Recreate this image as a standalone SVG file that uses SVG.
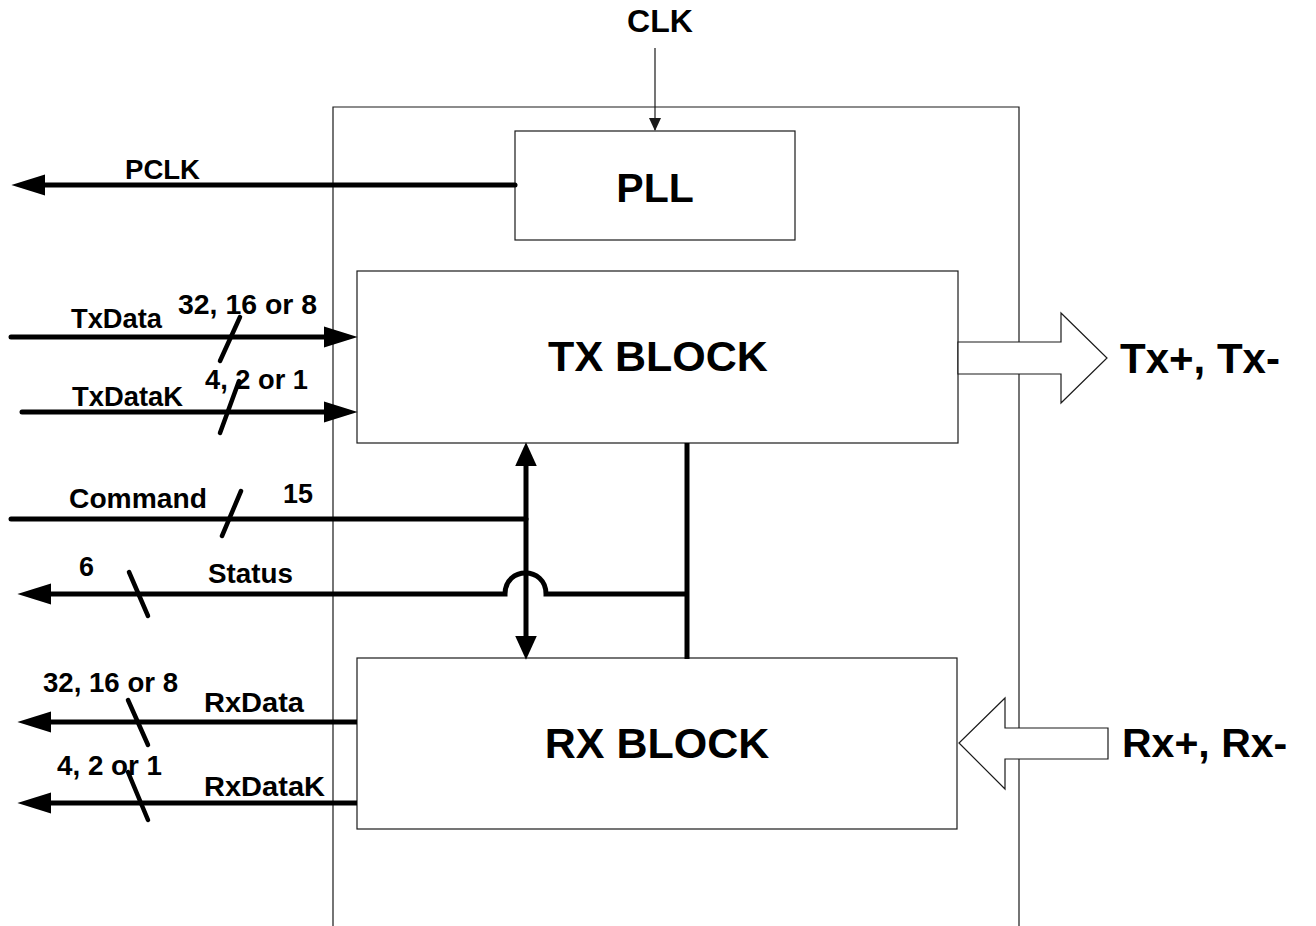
<svg xmlns="http://www.w3.org/2000/svg" width="1316" height="926" viewBox="0 0 1316 926">
<style>
  .thin { fill: none; stroke: #1a1a1a; stroke-width: 1.2; }
  .box { fill: #ffffff; stroke: #1a1a1a; stroke-width: 1.2; }
  .bus { fill: none; stroke: #000; stroke-width: 5; }
  .slash { fill: none; stroke: #000; stroke-width: 4.5; stroke-linecap: round; }
  .hollow { fill: #ffffff; stroke: #1a1a1a; stroke-width: 1.2; }
  text { font-family: "Liberation Sans", Arial, sans-serif; font-weight: bold; fill: #000; }
  .lbl { font-size: 27px; }
  .big { font-size: 43px; }
</style>
<defs>
  <marker id="ah" markerUnits="userSpaceOnUse" markerWidth="34" markerHeight="22" viewBox="0 0 32 20" refX="22" refY="10" orient="auto">
    <path d="M0,0 L32,10 L0,20 z" fill="#000"/>
  </marker>
  <marker id="ahs" markerUnits="userSpaceOnUse" markerWidth="24" markerHeight="22" viewBox="0 0 22 20" refX="14" refY="10" orient="auto-start-reverse">
    <path d="M0,0 L22,10 L0,20 z" fill="#000"/>
  </marker>
  <marker id="aht" markerUnits="userSpaceOnUse" markerWidth="14" markerHeight="12" viewBox="0 0 13 12" refX="12" refY="6" orient="auto">
    <path d="M0,0 L13,6 L0,12 z" fill="#1a1a1a"/>
  </marker>
</defs>

<g id="enclosure">
  <path class="thin" d="M333,926 V107 H1019 V926"/>
</g>

<g id="pll">
  <rect class="box" x="515" y="131" width="280" height="109"/>
  <text x="655" y="202" text-anchor="middle" font-size="41">PLL</text>
</g>

<g id="tx-block">
  <rect class="box" x="357" y="271" width="601" height="172"/>
  <text class="big" x="658" y="371" text-anchor="middle">TX BLOCK</text>
</g>

<g id="rx-block">
  <rect class="box" x="357" y="658" width="600" height="171"/>
  <text class="big" x="657" y="758" text-anchor="middle">RX BLOCK</text>
</g>

<g id="connectors">
  <!-- CLK -->
  <line class="thin" x1="655" y1="48" x2="655" y2="130" marker-end="url(#aht)"/>
  <!-- PCLK -->
  <line class="bus" x1="515" y1="185" x2="22" y2="185" stroke-linecap="round" marker-end="url(#ah)"/>
  <!-- TxData -->
  <line class="bus" x1="11" y1="337" x2="347" y2="337" stroke-linecap="round" marker-end="url(#ah)"/>
  <line class="slash" x1="240" y1="317" x2="220" y2="361"/>
  <!-- TxDataK -->
  <line class="bus" x1="22" y1="412" x2="347" y2="412" stroke-linecap="round" marker-end="url(#ah)"/>
  <line class="slash" x1="239" y1="381" x2="220" y2="433"/>
  <!-- Command -->
  <line class="bus" x1="11" y1="519" x2="526" y2="519" stroke-linecap="round"/>
  <line class="slash" x1="241" y1="491" x2="222" y2="536"/>
  <!-- TX/RX bidirectional -->
  <line class="bus" x1="526" y1="451" x2="526" y2="651" marker-start="url(#ahs)" marker-end="url(#ahs)"/>
  <!-- right vertical bus -->
  <line class="bus" x1="687" y1="443" x2="687" y2="659"/>
  <!-- Status with hop -->
  <path class="bus" d="M687,594 H546 C546,566 505,566 505,594 H28" marker-end="url(#ah)"/>
  <line class="slash" x1="129" y1="572" x2="148" y2="616"/>
  <!-- RxData -->
  <line class="bus" x1="357" y1="722" x2="28" y2="722" marker-end="url(#ah)"/>
  <line class="slash" x1="128" y1="700" x2="148" y2="745"/>
  <!-- RxDataK -->
  <line class="bus" x1="357" y1="803" x2="28" y2="803" marker-end="url(#ah)"/>
  <line class="slash" x1="128" y1="772" x2="148" y2="820"/>
  <!-- Serial Tx -->
  <polygon class="hollow" points="958,342 1061,342 1061,313 1107,358 1061,403 1061,374 958,374"/>
  <!-- Serial Rx -->
  <polygon class="hollow" points="1108,728 1005,728 1005,698 959,743 1005,789 1005,759 1108,759"/>
</g>

<g id="labels">
  <text x="660" y="32" text-anchor="middle" font-size="32">CLK</text>
  <text class="lbl" x="125" y="179" textLength="75" lengthAdjust="spacingAndGlyphs">PCLK</text>
  <text class="lbl" x="71" y="328" textLength="91" lengthAdjust="spacingAndGlyphs">TxData</text>
  <text class="lbl" x="178" y="314" textLength="139" lengthAdjust="spacingAndGlyphs">32, 16 or 8</text>
  <text class="lbl" x="72" y="406" textLength="111" lengthAdjust="spacingAndGlyphs">TxDataK</text>
  <text class="lbl" x="205" y="389" textLength="103" lengthAdjust="spacingAndGlyphs">4, 2 or 1</text>
  <text class="lbl" x="69" y="508" textLength="138" lengthAdjust="spacingAndGlyphs">Command</text>
  <text class="lbl" x="283" y="503" textLength="30" lengthAdjust="spacingAndGlyphs">15</text>
  <text class="lbl" x="79" y="576" textLength="15" lengthAdjust="spacingAndGlyphs">6</text>
  <text class="lbl" x="208" y="583" textLength="85" lengthAdjust="spacingAndGlyphs">Status</text>
  <text class="lbl" x="43" y="692" textLength="135" lengthAdjust="spacingAndGlyphs">32, 16 or 8</text>
  <text class="lbl" x="204" y="712" textLength="100" lengthAdjust="spacingAndGlyphs">RxData</text>
  <text class="lbl" x="57" y="775" textLength="105" lengthAdjust="spacingAndGlyphs">4, 2 or 1</text>
  <text class="lbl" x="204" y="796" textLength="121" lengthAdjust="spacingAndGlyphs">RxDataK</text>
  <text x="1120" y="373" font-size="42">Tx+, Tx-</text>
  <text x="1122" y="757" font-size="41">Rx+, Rx-</text>
</g>
</svg>
